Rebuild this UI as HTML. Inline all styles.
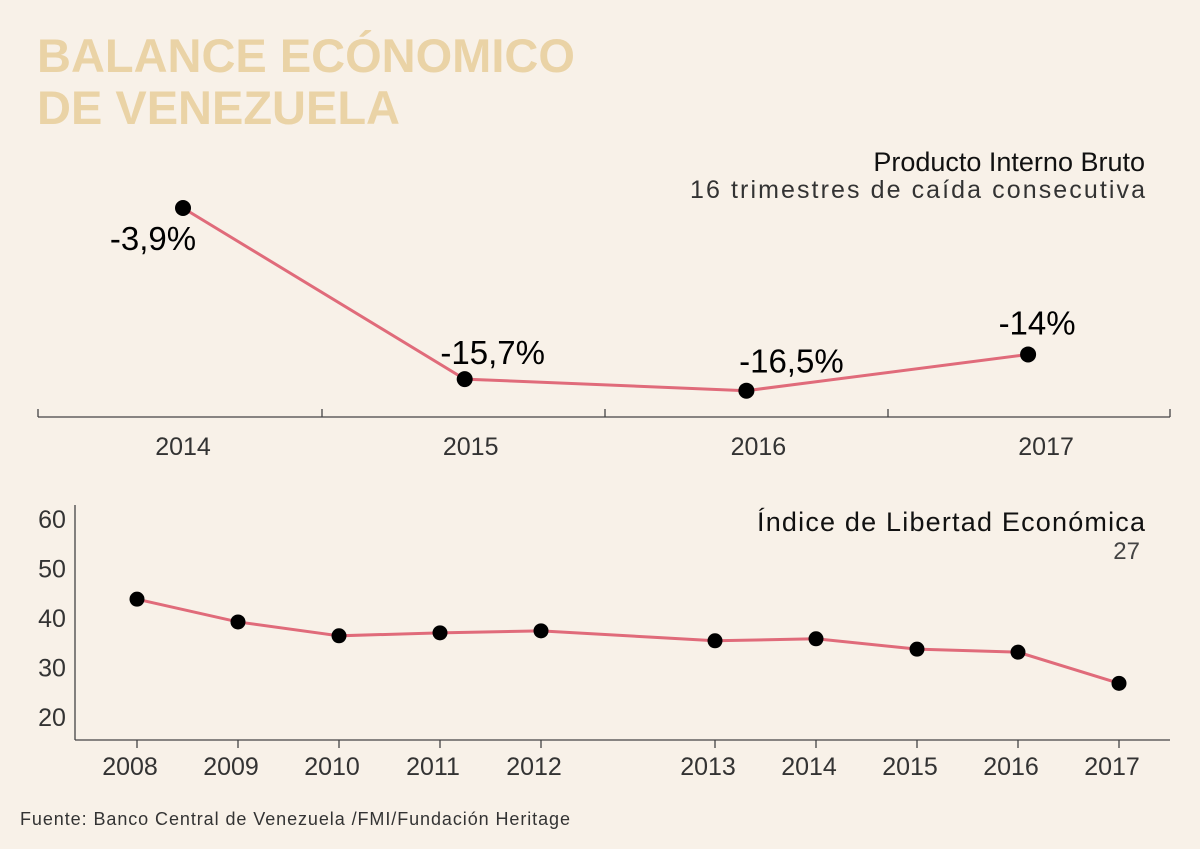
<!DOCTYPE html>
<html><head><meta charset="utf-8"><style>
body{margin:0;background:#f8f1e8;}
svg{display:block;font-family:"Liberation Sans",sans-serif;}
</style></head><body>
<svg id="c" width="1200" height="849" viewBox="0 0 1200 849">
<rect width="1200" height="849" fill="#f8f1e8"/>
<text x="37" y="72" font-size="47" font-weight="bold" fill="#ead3a6">BALANCE ECÓNOMICO</text>
<text x="37" y="124" font-size="47" font-weight="bold" fill="#ead3a6">DE VENEZUELA</text>
<text x="1145" y="171" font-size="27" text-anchor="end" fill="#111">Producto Interno Bruto</text>
<text x="1145" y="198" font-size="25" text-anchor="end" fill="#333" textLength="455">16 trimestres de caída consecutiva</text>
<text x="1145" y="531" font-size="27" text-anchor="end" fill="#111" textLength="388">Índice de Libertad Económica</text>
<text x="1140" y="559" font-size="24" text-anchor="end" fill="#444">27</text>
<text x="20" y="825" font-size="18" fill="#333" textLength="550">Fuente: Banco Central de Venezuela /FMI/Fundación Heritage</text>
<g id="gTop"></g><g id="gBot"></g>
</svg>
<script>
const gdpYears=["2014","2015","2016","2017"];
const gdpValues=[-3.9,-15.7,-16.5,-14];
const gdpLabels=["-3,9%","-15,7%","-16,5%","-14%"];
const efYears=["2008","2009","2010","2011","2012","2013","2014","2015","2016","2017"];
const efValues=[43.6,39.0,36.2,36.8,37.2,35.2,35.6,33.5,32.9,26.6];
const efTicks=[60,50,40,30,20];
{
const NS="http://www.w3.org/2000/svg";
function mk(p,t,a){const e=document.createElementNS(NS,t);for(const k in a)e.setAttribute(k,a[k]);p.appendChild(e);return e;}
const LC="#e06b7a";
const gT=document.getElementById('gTop');
const gx=i=>183+i*281.7;
const gy=v=>208+(-3.9-v)*14.5;
let a=mk(gT,'line',{x1:38,y1:417,x2:1170,y2:417,stroke:"#444","stroke-width":1.3});


[38,322,605,888,1170].forEach(x=>{let t=mk(gT,'line',{x1:x,y1:409,x2:x,y2:417,stroke:"#444","stroke-width":1.3});

});
let pl=mk(gT,'polyline',{points:gdpValues.map((v,i)=>gx(i)+","+gy(v)).join(" "),fill:"none",stroke:LC,"stroke-width":3});


const lblDx=[-30,28,45,9], lblDy=[42,-15,-18,-20];
gdpValues.forEach((v,i)=>{
 let c=mk(gT,'circle',{cx:gx(i),cy:gy(v),r:8,fill:"#000"});
 
 
 let t=mk(gT,'text',{x:gx(i)+lblDx[i],y:gy(v)+lblDy[i],"font-size":33,"text-anchor":"middle",fill:"#000"});
 t.textContent=gdpLabels[i];
 
 
 let y=mk(gT,'text',{x:gx(i)+i*6,y:455,"font-size":25,"text-anchor":"middle",fill:"#333"});
 y.textContent=gdpYears[i];
 
 
});
const gB=document.getElementById('gBot');
const ex=i=>137+i*101+(i>=5?73:0);
const ey=v=>518+(60-v)*4.95;
let ax=mk(gB,'line',{x1:75,y1:740,x2:1170,y2:740,stroke:"#444","stroke-width":1.3});


let ay=mk(gB,'line',{x1:75,y1:505,x2:75,y2:740,stroke:"#444","stroke-width":1.3});


efTicks.forEach(v=>{let t=mk(gB,'text',{x:52,y:ey(v)+10,"font-size":25,"text-anchor":"middle",fill:"#333"});t.textContent=v;

});
let pl2=mk(gB,'polyline',{points:efValues.map((v,i)=>ex(i)+","+ey(v)).join(" "),fill:"none",stroke:LC,"stroke-width":3});


efValues.forEach((v,i)=>{
 let c=mk(gB,'circle',{cx:ex(i),cy:ey(v),r:7.5,fill:"#000"});
 
 
 let t=mk(gB,'line',{x1:ex(i),y1:740,x2:ex(i),y2:748,stroke:"#444","stroke-width":1.3});
 
 
 let y=mk(gB,'text',{x:ex(i)-7,y:775,"font-size":25,"text-anchor":"middle",fill:"#333"});
 y.textContent=efYears[i];
 
 
});
}
</script>
</body></html>
